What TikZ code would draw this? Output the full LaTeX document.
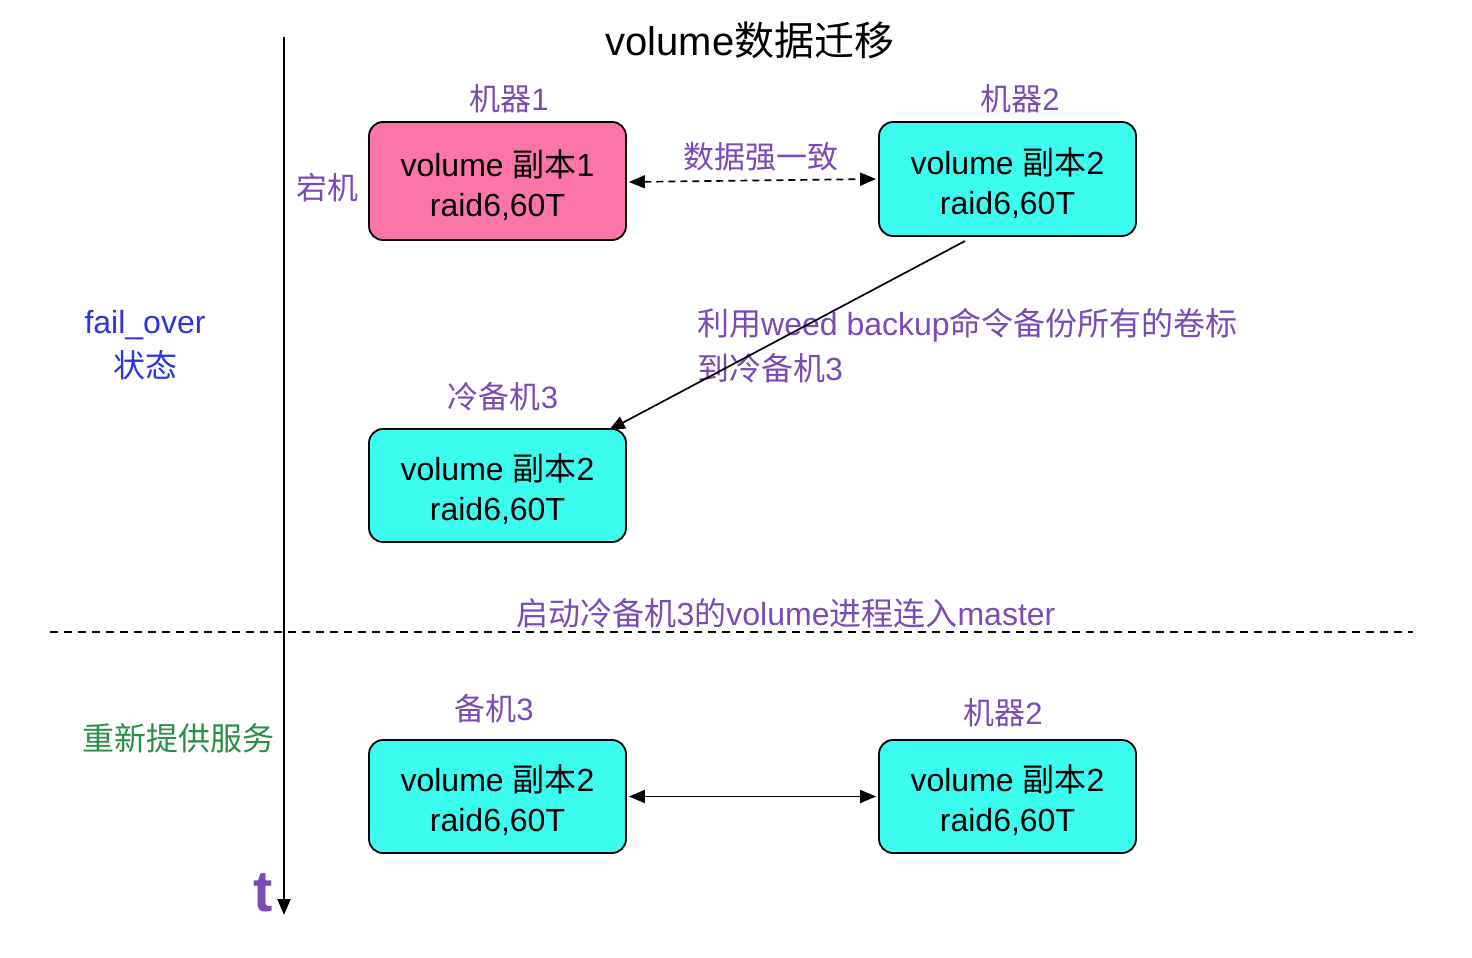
\documentclass[tikz,border=0pt]{standalone}
\usepackage{fontspec}
\setmainfont{Liberation Sans}
\newfontfamily\cjkf{Noto Sans CJK SC}
\newcommand\cjk[1]{{\cjkf #1}}
\newcommand\tallstrut{\rule{0pt}{35pt}}
\usetikzlibrary{arrows.meta}
\definecolor{purp}{HTML}{7A4BB5}
\definecolor{bluet}{HTML}{2B35E0}
\definecolor{greent}{HTML}{2A8F45}
\definecolor{pinkf}{HTML}{FB76A6}
\definecolor{cyanf}{HTML}{3CFCF0}
\tikzset{
  vbox/.style={draw=black, line width=1.8pt, rounded corners=14pt, minimum width=257pt, minimum height=116pt, align=center, font=\fontsize{32}{40}\selectfont, inner sep=0pt},
  lbl/.style={text=purp, font=\fontsize{31}{34}\selectfont, inner sep=0pt},
  tip/.style={-{Triangle[width=13pt,length=16pt]}},
  dtip/.style={{Triangle[width=13pt,length=16pt]}-{Triangle[width=13pt,length=16pt]}},
}
\begin{document}
\begin{tikzpicture}[x=1pt,y=-1pt]
\useasboundingbox[fill=white] (0,0) rectangle (1472,958);
% timeline
\coordinate (t0) at (284,37);
\coordinate (t1) at (284,915);
\draw[line width=2pt, tip] (t0) -- (t1);
% separator
\coordinate (s0) at (50,632);
\coordinate (s1) at (1413,632);
\draw[line width=1.7pt, dash pattern=on 8pt off 6pt] (s0) -- (s1);
% title
\node[inner sep=0pt, font=\fontsize{40}{44}\selectfont] (title) at (750,40) {volume\cjk{数据迁移}};
% boxes
\node[vbox, fill=pinkf, minimum height=118pt] (b1) at (497.5,181) {\tallstrut volume \cjk{副本}1\\raid6,60T};
\node[vbox, fill=cyanf, minimum height=114pt] (b2) at (1007.5,179) {\tallstrut volume \cjk{副本}2\\raid6,60T};
\node[vbox, fill=cyanf, minimum height=113pt] (b3) at (497.5,485.5) {\tallstrut volume \cjk{副本}2\\raid6,60T};
\node[vbox, fill=cyanf, minimum height=113pt] (b4) at (497.5,796.5) {\tallstrut volume \cjk{副本}2\\raid6,60T};
\node[vbox, fill=cyanf, minimum height=113pt] (b5) at (1007.5,796.5) {\tallstrut volume \cjk{副本}2\\raid6,60T};
% labels
\node[lbl] (l1) at (509,99) {\cjk{机器}1};
\node[lbl] (l2) at (1020,99) {\cjk{机器}2};
\node[lbl] (l3) at (761,157) {\cjk{数据强一致}};
\node[lbl] (l4) at (327,188) {\cjk{宕机}};
\node[text=bluet, font=\fontsize{32}{44}\selectfont, align=center, inner sep=0pt] (l5) at (145,345) {fail\_over\\\cjk{状态}};
\node[lbl, align=left, anchor=west, font=\fontsize{32}{45}\selectfont] (l6) at (697,345.5) {\cjk{利用}weed backup\cjk{命令备份所有的卷标}\\\cjk{到冷备机}3};
\node[lbl] (l7) at (503,397) {\cjk{冷备机}3};
\node[lbl, font=\fontsize{32}{34}\selectfont] (l8) at (786,613) {\cjk{启动冷备机}3\cjk{的}volume\cjk{进程连入}master};
\node[text=greent, font=\fontsize{32}{34}\selectfont, inner sep=0pt] (l9) at (178,738) {\cjk{重新提供服务}};
\node[lbl] (l10) at (494,709) {\cjk{备机}3};
\node[lbl] (l11) at (1003,713) {\cjk{机器}2};
\node[text=purp, font=\fontsize{58}{60}\selectfont\bfseries, inner sep=0pt] (tl) at (263,893) {t};
% connectors
\draw[line width=1.7pt, dtip, dash pattern=on 7pt off 5pt] ([xshift=2pt,yshift=-1pt]b1.east) -- ([xshift=-2pt]b2.west);
\coordinate (d0) at (965,241);
\draw[line width=1.7pt, tip] (d0) -- ([xshift=-18pt,yshift=-2pt]b3.north east);
\draw[line width=1.7pt, dtip] ([xshift=2pt]b4.east) -- ([xshift=-2pt]b5.west);
\end{tikzpicture}
\end{document}
